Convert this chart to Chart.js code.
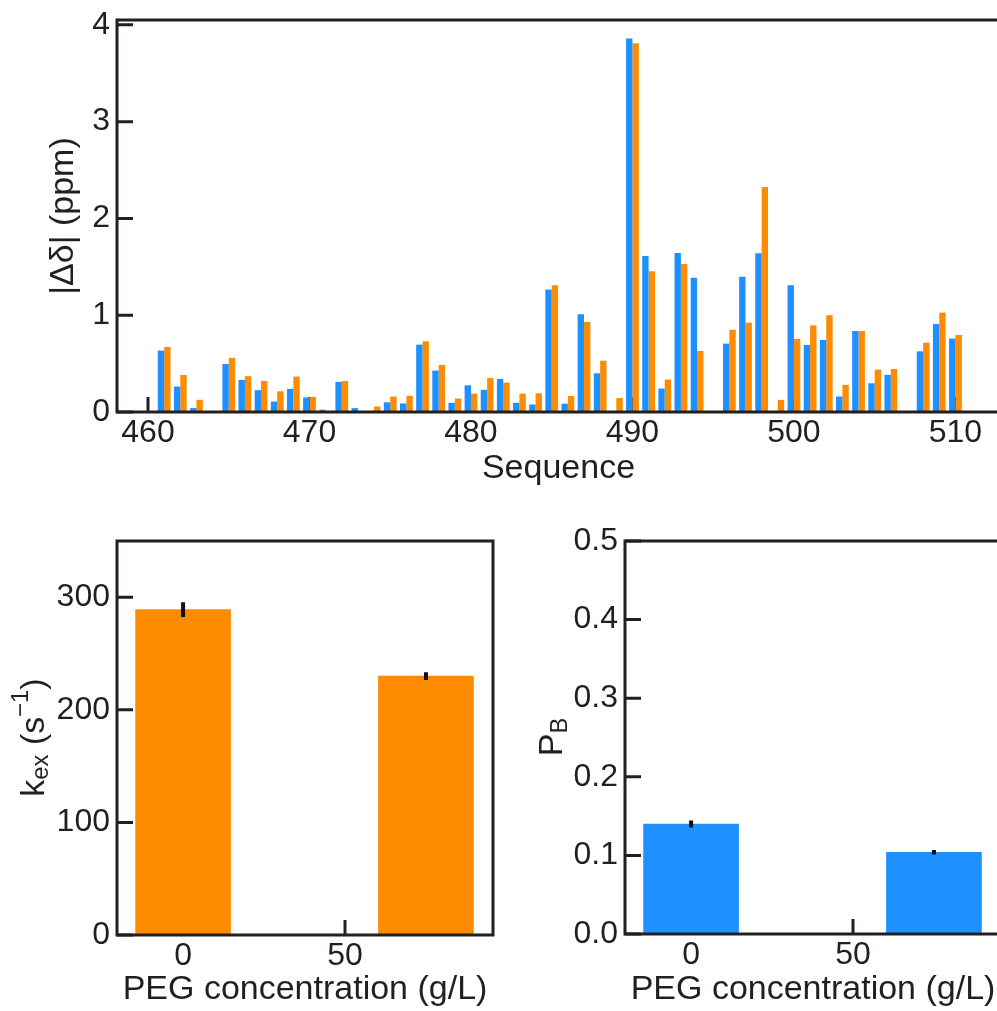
<!DOCTYPE html>
<html><head><meta charset="utf-8">
<script src="https://cdn.jsdelivr.net/npm/chart.js@4"></script>
<style>
html,body{margin:0;padding:0;background:#fff;overflow:hidden;width:997px;height:1011px;}
canvas{position:absolute;}
#c1{left:0;top:0;}
#c2{left:0;top:500px;}
#c3{left:500px;top:500px;}
</style></head><body>
<canvas id="c1" width="1000" height="500"></canvas>
<canvas id="c2" width="500" height="511"></canvas>
<canvas id="c3" width="510" height="511"></canvas>
<script>
// ---- data ----
const residues = [461,462,463,464,465,466,467,468,469,470,471,472,473,474,475,476,477,478,479,480,
  481,482,483,484,485,486,487,488,489,490,491,492,493,494,495,496,497,498,499,500,
  501,502,503,504,505,506,507,508,509,510];
const shiftBlue = [0.634,0.263,0.04,null,0.497,0.332,0.225,0.108,0.239,0.15,0.023,0.311,0.04,null,0.10,0.088,0.696,0.428,0.095,0.276,
  0.229,0.342,0.095,0.077,1.265,0.086,1.01,0.40,null,3.86,1.613,0.242,1.644,1.387,null,0.706,1.397,1.64,0.01,1.31,
  0.693,0.744,0.16,0.837,0.297,0.384,null,0.627,0.909,0.758];
const shiftOrange = [0.672,0.383,0.126,null,0.559,0.37,0.32,0.214,0.366,0.157,null,0.32,null,0.057,0.16,0.167,0.73,0.487,0.139,0.19,
  0.352,0.304,0.19,0.193,1.31,0.165,0.93,0.53,0.145,3.81,1.455,0.335,1.53,0.63,null,0.85,0.923,2.325,0.125,0.755,
  0.895,1.0,0.28,0.837,0.438,0.445,null,0.716,1.026,0.796];
const seqTicks = [460,470,480,490,500,510];
const shiftTicks = [0,1,2,3,4];

const pegConc = [0, 75];
const pegTicks = [0, 50];
const kex = [289, 230];
const kexErr = [6.5, 3.5];
const kexTicks = [0,100,200,300];
const pB = [0.14, 0.104];
const pBErr = [0.0045, 0.003];
const pBTicks = [0,0.1,0.2,0.3,0.4,0.5];

// ---- style ----
const FAM = '"Liberation Sans", Arial, Helvetica, sans-serif';
const INK = '#231f20';
const BLUE = '#1e90ff';
const ORANGE = '#ff8c00';

function zeroPad(s){ s.paddingTop = 0; s.paddingBottom = 0; s.paddingLeft = 0; s.paddingRight = 0; }

const framePlugin = {
  id: 'frame',
  beforeDatasetsDraw(chart, args, o){
    const {ctx, chartArea:a, scales:{x, y}} = chart;
    ctx.save();
    ctx.strokeStyle = INK; ctx.lineWidth = 3; ctx.lineCap = 'butt';
    ctx.beginPath();
    (o.xt||[]).forEach(v => { const px = x.getPixelForValue(v); ctx.moveTo(px, a.bottom); ctx.lineTo(px, a.bottom - 15); });
    (o.yt||[]).forEach(v => { const py = y.getPixelForValue(v); ctx.moveTo(a.left, py); ctx.lineTo(a.left + 16, py); });
    ctx.stroke();
    ctx.restore();
  },
  afterDatasetsDraw(chart, args, o){
    const {ctx, chartArea:a, scales:{x, y}} = chart;
    ctx.save();
    if (o.err) {
      ctx.strokeStyle = '#111'; ctx.lineWidth = 4; ctx.lineCap = 'butt';
      ctx.beginPath();
      o.xs.forEach((xv, i) => {
        const px = x.getPixelForValue(xv);
        ctx.moveTo(px, y.getPixelForValue(o.vals[i] - o.err[i]));
        ctx.lineTo(px, y.getPixelForValue(o.vals[i] + o.err[i]));
      });
      ctx.stroke();
    }
    ctx.strokeStyle = INK; ctx.lineWidth = 3;
    ctx.strokeRect(a.left, a.top, a.right - a.left, a.bottom - a.top);
    if (o.rich) {
      const r = o.rich, size = r.size;
      ctx.fillStyle = INK;
      let total = 0;
      const parts = r.segs.map(s => {
        const fs = (s.sub || s.sup) ? size * 0.7 : size;
        ctx.font = fs + 'px ' + FAM;
        const w = ctx.measureText(s.t).width;
        total += w;
        return {t: s.t, sub: s.sub, sup: s.sup, fs, w};
      });
      ctx.translate(r.baseX, r.cy);
      ctx.rotate(-Math.PI / 2);
      ctx.textBaseline = 'alphabetic';
      ctx.textAlign = 'left';
      let xx = -total / 2;
      parts.forEach(p => {
        ctx.font = p.fs + 'px ' + FAM;
        const dy = p.sub ? size * 0.14 : (p.sup ? -size * 0.47 : 0);
        ctx.fillText(p.t, xx, dy);
        xx += p.w;
      });
    }
    ctx.restore();
  }
};

const tickFont = {family: FAM, size: 32, lineHeight: 1};
const titleFont = {family: FAM, size: 34, lineHeight: 1};

// ---- top chart ----
new Chart(document.getElementById('c1'), {
  type: 'bar',
  data: { datasets: [
    {data: residues.map((r, i) => ({x: r, y: shiftBlue[i]})), backgroundColor: BLUE, borderWidth: 0, categoryPercentage: 0.79, barPercentage: 1},
    {data: residues.map((r, i) => ({x: r, y: shiftOrange[i]})), backgroundColor: ORANGE, borderWidth: 0, categoryPercentage: 0.79, barPercentage: 1}
  ]},
  options: {
    responsive: false, animation: false,
    layout: {padding: {top: 20, left: 0, right: 0, bottom: 0}},
    plugins: {legend: {display: false}, tooltip: {enabled: false}, frame: {xt: seqTicks, yt: shiftTicks}},
    scales: {
      x: {type: 'linear', min: 458.08, max: 512.76, offset: false,
          grid: {display: false, drawTicks: false}, border: {display: false},
          afterBuildTicks: s => { s.ticks = seqTicks.map(v => ({value: v})); },
          afterFit: s => { s.height = 88; zeroPad(s); },
          ticks: {font: tickFont, color: INK, padding: 5, maxRotation: 0, autoSkip: false, callback: v => String(v)},
          title: {display: true, text: 'Sequence', font: titleFont, color: INK, padding: {top: 0, bottom: 14}}},
      y: {type: 'linear', min: 0, max: 4.05,
          grid: {display: false, drawTicks: false}, border: {display: false},
          afterBuildTicks: s => { s.ticks = shiftTicks.map(v => ({value: v})); },
          afterFit: s => { s.width = 117; zeroPad(s); },
          ticks: {font: tickFont, color: INK, padding: 7, callback: v => String(v)},
          title: {display: true, text: '|Δδ| (ppm)', font: titleFont, color: INK, padding: {top: 47, bottom: 0}}}
    }
  },
  plugins: [framePlugin]
});

// ---- bottom-left chart ----
new Chart(document.getElementById('c2'), {
  type: 'bar',
  data: { datasets: [
    {data: pegConc.map((x, i) => ({x: x, y: kex[i]})), backgroundColor: ORANGE, borderWidth: 0, barThickness: 95}
  ]},
  options: {
    responsive: false, animation: false,
    layout: {padding: {top: 41, left: 0, right: 7, bottom: 0}},
    plugins: {legend: {display: false}, tooltip: {enabled: false},
      frame: {xt: pegTicks, yt: kexTicks, err: kexErr, vals: kex, xs: pegConc,
        rich: {size: 34, baseX: 43.5, cy: 237.5, segs: [{t: 'k'}, {t: 'ex', sub: true}, {t: ' (s'}, {t: '\u22121', sup: true}, {t: ')'}]}}},
    scales: {
      x: {type: 'linear', min: -20.4, max: 95.7, offset: false,
          grid: {display: false, drawTicks: false}, border: {display: false},
          afterBuildTicks: s => { s.ticks = pegTicks.map(v => ({value: v})); },
          afterFit: s => { s.height = 76; zeroPad(s); },
          ticks: {font: tickFont, color: INK, padding: 5, maxRotation: 0, autoSkip: false, callback: v => String(v)},
          title: {display: true, text: 'PEG concentration (g/L)', font: titleFont, color: INK, padding: {top: 0, bottom: 4}}},
      y: {type: 'linear', min: 0, max: 350,
          grid: {display: false, drawTicks: false}, border: {display: false},
          afterBuildTicks: s => { s.ticks = kexTicks.map(v => ({value: v})); },
          afterFit: s => { s.width = 117; zeroPad(s); },
          ticks: {font: tickFont, color: INK, padding: 7, callback: v => String(v)}}
    }
  },
  plugins: [framePlugin]
});

// ---- bottom-right chart ----
new Chart(document.getElementById('c3'), {
  type: 'bar',
  data: { datasets: [
    {data: pegConc.map((x, i) => ({x: x, y: pB[i]})), backgroundColor: BLUE, borderWidth: 0, barThickness: 95}
  ]},
  options: {
    responsive: false, animation: false,
    layout: {padding: {top: 41, left: 0, right: 9, bottom: 0}},
    plugins: {legend: {display: false}, tooltip: {enabled: false},
      frame: {xt: pegTicks, yt: pBTicks, err: pBErr, vals: pB, xs: pegConc,
        rich: {size: 34, baseX: 62, cy: 237, segs: [{t: 'P'}, {t: 'B', sub: true}]}}},
    scales: {
      x: {type: 'linear', min: -20.4, max: 95.7, offset: false,
          grid: {display: false, drawTicks: false}, border: {display: false},
          afterBuildTicks: s => { s.ticks = pegTicks.map(v => ({value: v})); },
          afterFit: s => { s.height = 77; zeroPad(s); },
          ticks: {font: tickFont, color: INK, padding: 5, maxRotation: 0, autoSkip: false, callback: v => String(v)},
          title: {display: true, text: 'PEG concentration (g/L)', font: titleFont, color: INK, padding: {top: 0, bottom: 4}}},
      y: {type: 'linear', min: 0, max: 0.5,
          grid: {display: false, drawTicks: false}, border: {display: false},
          afterBuildTicks: s => { s.ticks = pBTicks.map(v => ({value: v})); },
          afterFit: s => { s.width = 125; zeroPad(s); },
          ticks: {font: tickFont, color: INK, padding: 7, callback: v => Number(v).toFixed(1)}}
    }
  },
  plugins: [framePlugin]
});
</script>
</body></html>
